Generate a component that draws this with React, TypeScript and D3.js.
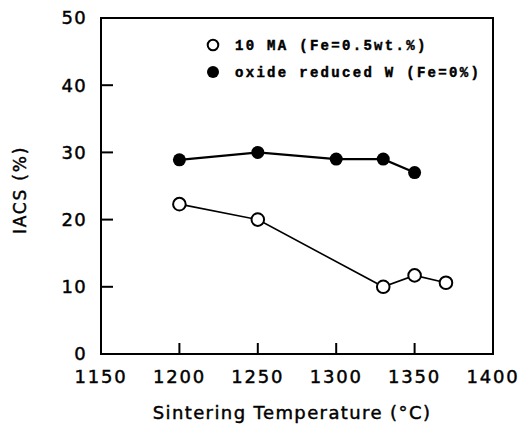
import * as d3 from 'd3'

// temperatures (°C) and IACS (%)
const maTemps = [1200, 1250, 1330, 1350, 1370]
const maIacs = [22.3, 20, 10, 11.7, 10.6]
const oxideTemps = [1200, 1250, 1300, 1330, 1350]
const oxideIacs = [28.9, 30, 29, 29, 27]

const xTicks = [1150, 1200, 1250, 1300, 1350, 1400]
const yTicks = [0, 10, 20, 30, 40, 50]
const legendLabels = ['10 MA (Fe=0.5wt.%)', 'oxide reduced W (Fe=0%)']

const W = 520
const H = 436
const margin = { top: 18, right: 27, bottom: 82, left: 101 }

const App = () => {
	const innerW = W - margin.left - margin.right
	const innerH = H - margin.top - margin.bottom

	const x = d3.scaleLinear().domain([1150, 1400]).range([0, innerW])
	const y = d3.scaleLinear().domain([0, 50]).range([innerH, 0])

	const line = d3
		.line<[number, number]>()
		.x((d) => x(d[0]))
		.y((d) => y(d[1]))

	const maPts: [number, number][] = maTemps.map((t, i) => [t, maIacs[i]])
	const oxPts: [number, number][] = oxideTemps.map((t, i) => [t, oxideIacs[i]])

	const sans = "'DejaVu Sans', sans-serif"
	const mono = "'Liberation Mono', 'DejaVu Sans Mono', monospace"
	// scanned print looks heavier than the plain font
	const heavy = { stroke: '#000', strokeWidth: 0.45 }

	return (
		<svg
			width={W}
			height={H}
			style={{ position: 'absolute', left: 0, top: 0, background: '#fff' }}
		>
			<g transform={`translate(${margin.left},${margin.top})`}>
				{/* frame */}
				<rect
					x={0}
					y={0}
					width={innerW}
					height={innerH}
					fill="none"
					stroke="#000"
					strokeWidth={2}
				/>

				{/* inward ticks */}
				{yTicks
					.filter((t) => t > 0 && t < 50)
					.map((t) => (
						<line key={'yt' + t} x1={0} x2={12} y1={y(t)} y2={y(t)} stroke="#000" strokeWidth={2} />
					))}
				{xTicks
					.filter((t) => t > 1150 && t < 1400)
					.map((t) => (
						<line key={'xt' + t} x1={x(t)} x2={x(t)} y1={innerH} y2={innerH - 11} stroke="#000" strokeWidth={2} />
					))}

				{/* tick labels */}
				{yTicks.map((t) => (
					<text
						key={'yl' + t}
						x={-14}
						y={y(t)}
						dy="0.36em"
						textAnchor="end"
						fontFamily={sans}
						fontSize={18}
						letterSpacing={1.3}
						{...heavy}
					>
						{t}
					</text>
				))}
				{xTicks.map((t) => (
					<text
						key={'xl' + t}
						x={x(t)}
						y={innerH + 29}
						textAnchor="middle"
						fontFamily={sans}
						fontSize={18}
						letterSpacing={1.8}
						{...heavy}
					>
						{t}
					</text>
				))}

				{/* series lines */}
				<path d={line(oxPts) || ''} fill="none" stroke="#000" strokeWidth={2.2} />
				<path d={line(maPts) || ''} fill="none" stroke="#000" strokeWidth={1.6} />

				{oxPts.map((d, i) => (
					<circle key={'o' + i} cx={x(d[0])} cy={y(d[1])} r={6.5} fill="#000" />
				))}
				{maPts.map((d, i) => (
					<circle key={'m' + i} cx={x(d[0])} cy={y(d[1])} r={6.3} fill="#fff" stroke="#000" strokeWidth={2} />
				))}

				{/* legend */}
				<circle cx={112} cy={27} r={5.3} fill="#fff" stroke="#000" strokeWidth={2} />
				<circle cx={112} cy={54} r={6} fill="#000" />
				{legendLabels.map((s, i) => (
					<text
						key={'lg' + i}
						x={134}
						y={32 + i * 27}
						fontFamily={mono}
						fontWeight="bold"
						fontSize={14}
						letterSpacing={2.3}
						{...heavy}
					>
						{s}
					</text>
				))}
			</g>

			{/* axis titles */}
			<text
				x={292}
				y={419}
				textAnchor="middle"
				fontFamily={sans}
				fontSize={18}
				letterSpacing={1.4}
				{...heavy}
			>
				Sintering Temperature (°C)
			</text>
			<text
				transform="translate(26,190) rotate(-90)"
				textAnchor="middle"
				fontFamily={sans}
				fontSize={17}
				letterSpacing={1.8}
				{...heavy}
			>
				IACS (%)
			</text>
		</svg>
	)
}

export default App
